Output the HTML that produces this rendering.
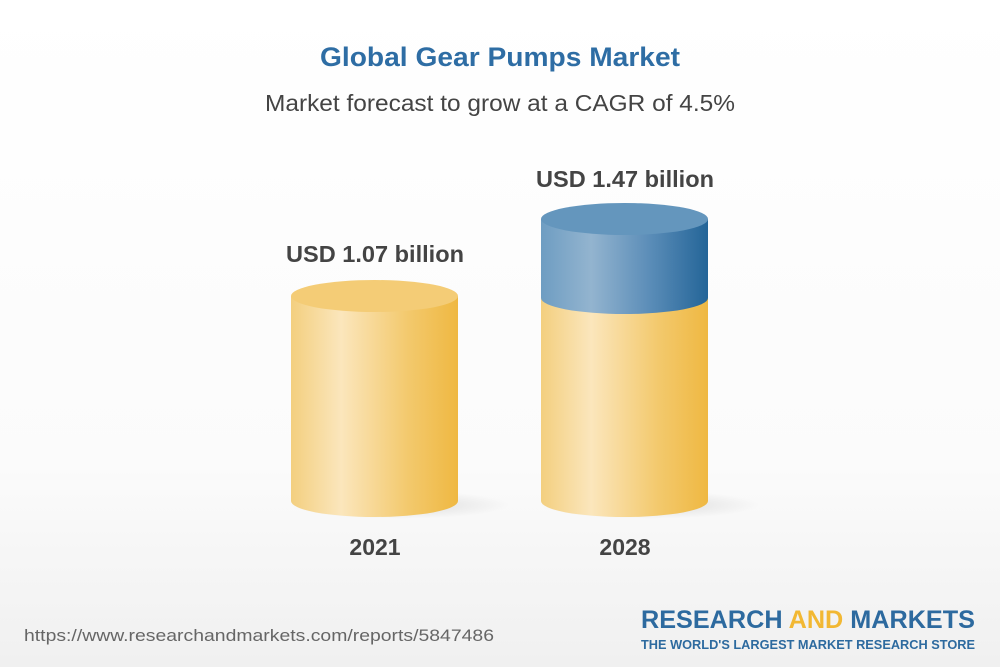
<!DOCTYPE html>
<html><head><style>
body{margin:0;width:1000px;height:667px;overflow:hidden;font-family:"Liberation Sans",Arial,sans-serif;}
</style></head><body>
<svg width="1000" height="667" xmlns="http://www.w3.org/2000/svg">
<defs>
<linearGradient id="bg" x1="0" y1="0" x2="0" y2="1">
<stop offset="0" stop-color="#ffffff"/><stop offset="0.7" stop-color="#fbfbfb"/><stop offset="1" stop-color="#f0f0f0"/>
</linearGradient>
<linearGradient id="y" x1="0" y1="0" x2="1" y2="0">
<stop offset="0" stop-color="#f3cf7f"/><stop offset="0.3" stop-color="#fbe6bc"/><stop offset="0.7" stop-color="#f3c96d"/><stop offset="1" stop-color="#efb842"/>
</linearGradient>
<linearGradient id="b" x1="0" y1="0" x2="1" y2="0">
<stop offset="0" stop-color="#6e9dc2"/><stop offset="0.3" stop-color="#93b4cf"/><stop offset="0.65" stop-color="#5b8db8"/><stop offset="1" stop-color="#246598"/>
</linearGradient>
<radialGradient id="sh" cx="0.5" cy="0.5" r="0.5">
<stop offset="0" stop-color="#000" stop-opacity="0.12"/><stop offset="1" stop-color="#000" stop-opacity="0"/>
</radialGradient>
</defs>
<rect width="1000" height="667" fill="url(#bg)"/>
<text x="320" y="66" textLength="360" lengthAdjust="spacingAndGlyphs" font-size="27" font-weight="bold" fill="#2e6da4">Global Gear Pumps Market</text>
<text x="265" y="111" textLength="470" lengthAdjust="spacingAndGlyphs" font-size="23" fill="#444">Market forecast to grow at a CAGR of 4.5%</text>

<ellipse cx="400" cy="505" rx="110" ry="14" fill="url(#sh)"/>
<ellipse cx="650" cy="505" rx="110" ry="14" fill="url(#sh)"/>

<path d="M291 296 L291 501 A83.5 16 0 0 0 458 501 L458 296 Z" fill="url(#y)"/>
<ellipse cx="374.5" cy="296" rx="83.5" ry="16" fill="#f4cc76"/>

<path d="M541 298 L541 501 A83.5 16 0 0 0 708 501 L708 298 Z" fill="url(#y)"/>
<path d="M541 219 L541 298 A83.5 16 0 0 0 708 298 L708 219 Z" fill="url(#b)"/>
<ellipse cx="624.5" cy="219" rx="83.5" ry="16" fill="#6496bd"/>

<text x="286" y="262" textLength="178" lengthAdjust="spacingAndGlyphs" font-size="23" font-weight="bold" fill="#444">USD 1.07 billion</text>
<text x="536" y="187" textLength="178" lengthAdjust="spacingAndGlyphs" font-size="23" font-weight="bold" fill="#444">USD 1.47 billion</text>
<text x="375" y="555" text-anchor="middle" font-size="23" font-weight="bold" fill="#444">2021</text>
<text x="625" y="555" text-anchor="middle" font-size="23" font-weight="bold" fill="#444">2028</text>

<text x="24" y="641" textLength="470" lengthAdjust="spacingAndGlyphs" font-size="17" fill="#666">https://www.researchandmarkets.com/reports/5847486</text>
<text x="641" y="628" textLength="334" lengthAdjust="spacingAndGlyphs" font-size="25" font-weight="bold" fill="#2d6a9f">RESEARCH <tspan fill="#f2b833">AND</tspan> MARKETS</text>
<text x="641" y="649" textLength="334" lengthAdjust="spacingAndGlyphs" font-size="12.6" font-weight="bold" fill="#2d6a9f">THE WORLD'S LARGEST MARKET RESEARCH STORE</text>
</svg>
</body></html>
